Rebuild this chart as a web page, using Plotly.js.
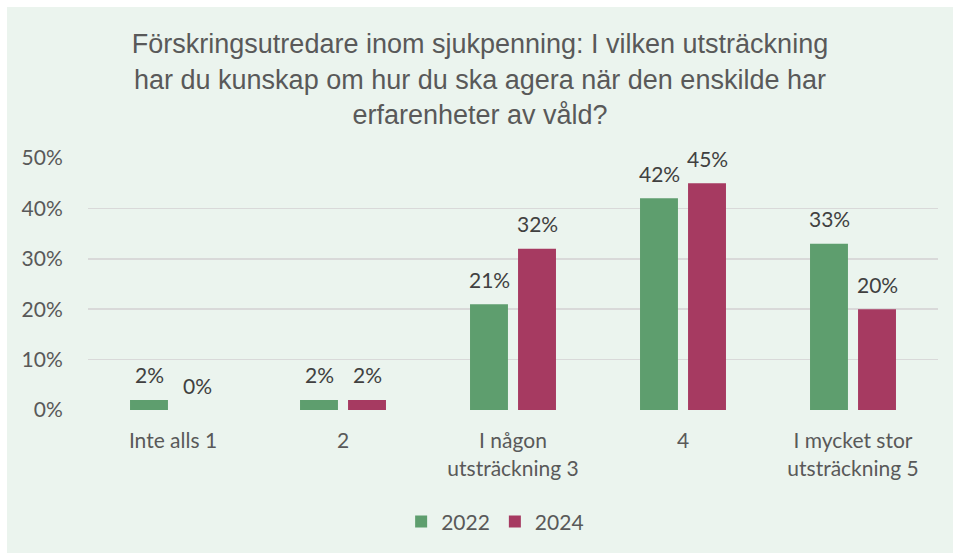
<!DOCTYPE html>
<html>
<head>
<meta charset="utf-8">
<script src="https://cdn.plot.ly/plotly-3.0.1.min.js"></script>
<style>
html,body{margin:0;padding:0;background:#ffffff;width:953px;height:553px;overflow:hidden;}
#chart{position:absolute;left:7px;top:7px;width:946px;height:546px;}
</style>
</head>
<body>
<div id="chart"></div>
<script>
const categories = ['Inte alls 1', '2', 'I någon<br>utsträckning 3', '4', 'I mycket stor<br>utsträckning 5'];
const seriesNames = ['2022', '2024'];
const values2022 = [2, 2, 21, 42, 33];
const values2024 = [0, 2, 32, 45, 20];
const yTickVals = [0, 10, 20, 30, 40, 50];

const green = '#5E9E6E';
const red = '#A63A61';
const bg = '#EBF4EE';
const tickFont = {family: 'Lato, "Open Sans", sans-serif', size: 21, color: '#595959'};
const labelFont = {family: 'Lato, "Open Sans", sans-serif', size: 21, color: '#404040'};

const traces = [
  {type: 'bar', name: seriesNames[0], x: categories, y: values2022, marker: {color: green}, hoverinfo: 'none'},
  {type: 'bar', name: seriesNames[1], x: categories, y: values2024, marker: {color: red}, hoverinfo: 'none'}
];

const annotations = [];
[values2022, values2024].forEach((vals, s) => {
  vals.forEach((v, i) => {
    annotations.push({
      xref: 'x', yref: 'y', x: i, y: v,
      text: v + '%', showarrow: false,
      xanchor: 'center', yanchor: 'middle',
      xshift: s === 0 ? -24 : 24, yshift: 25,
      font: labelFont
    });
  });
});

const layout = {
  width: 946, height: 546,
  paper_bgcolor: bg, plot_bgcolor: bg,
  margin: {l: 81, r: 15, t: 151, b: 143},
  title: {
    text: 'Förskringsutredare inom sjukpenning: I vilken utsträckning<br>har du kunskap om hur du ska agera när den enskilde har<br>erfarenheter av våld?',
    font: {family: '"Liberation Sans", Arial, sans-serif', size: 27, color: '#595959'},
    x: 0.5, xanchor: 'center', xref: 'container',
    y: 0.915, yanchor: 'top', yref: 'container'
  },
  barmode: 'group', bargap: 0.435, bargroupgap: 0.21,
  xaxis: {
    type: 'category', tickfont: tickFont, showgrid: false, zeroline: false,
    showline: false, ticks: 'outside', ticklen: 12, tickcolor: 'rgba(0,0,0,0)'
  },
  yaxis: {
    range: [0, 50], tickvals: yTickVals, ticktext: yTickVals.map(v => v + '%'),
    tickfont: tickFont, gridcolor: '#D9D9D9', gridwidth: 1.5, zeroline: false,
    showline: false, ticks: 'outside', ticklen: 20, tickcolor: 'rgba(0,0,0,0)'
  },
  showlegend: true,
  legend: {
    orientation: 'h', xref: 'container', yref: 'container',
    x: 0.516, xanchor: 'center', y: 0.057, yanchor: 'middle',
    font: tickFont, bgcolor: 'rgba(0,0,0,0)', itemwidth: 30
  },
  annotations: annotations
};

Plotly.newPlot('chart', traces, layout, {displayModeBar: false, staticPlot: true});
</script>
</body>
</html>
